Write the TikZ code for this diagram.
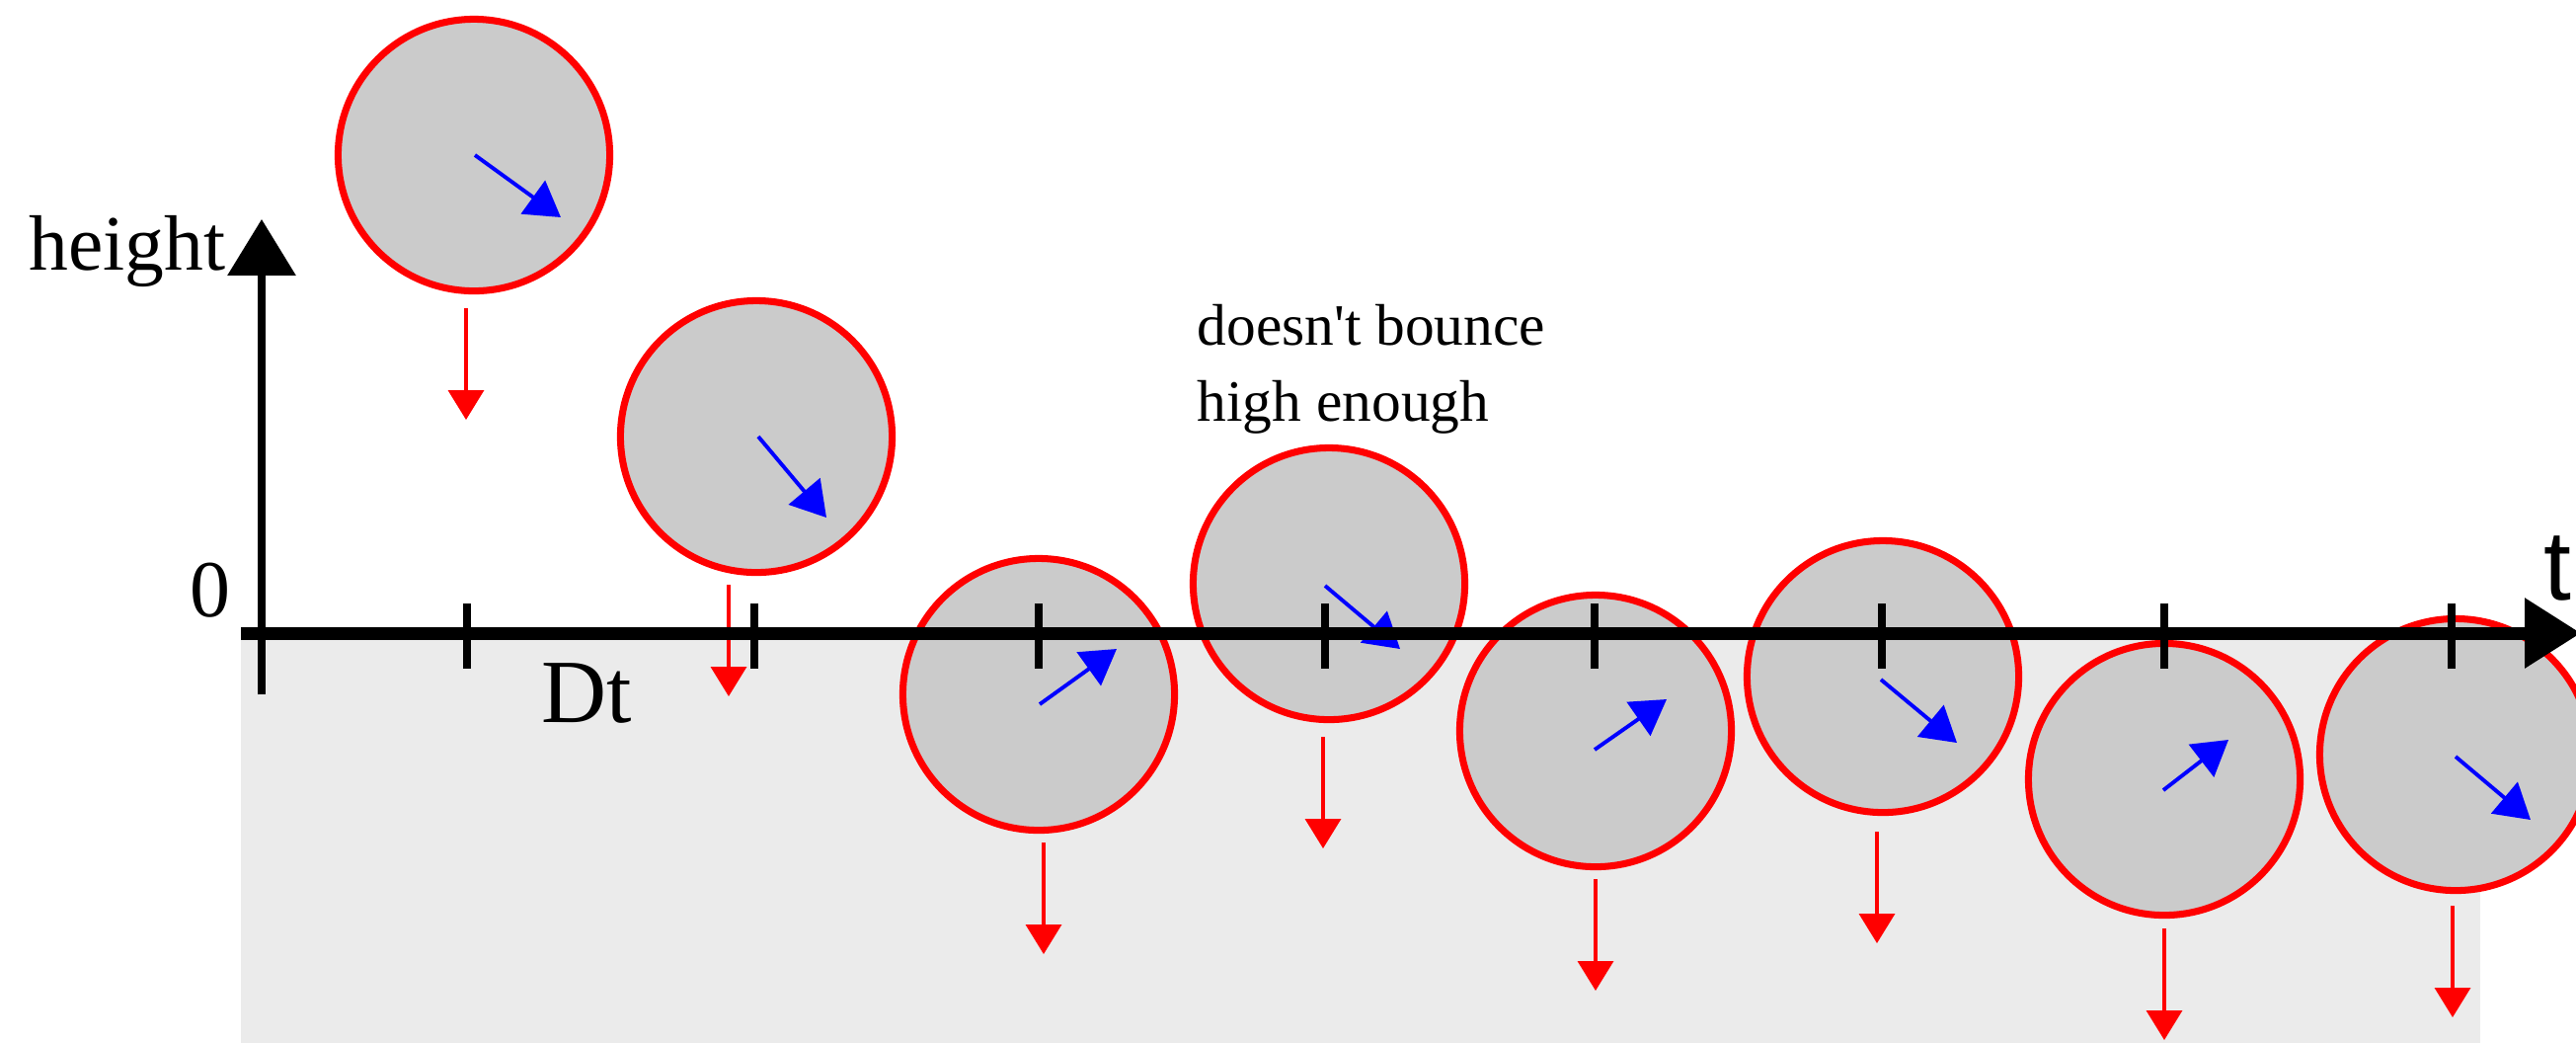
\documentclass[tikz,border=0pt]{standalone}
\usepackage{fontspec}
\setmainfont{Liberation Serif}
\newfontfamily\notefont{Liberation Serif}[Ligatures=TeXOff]
\newfontfamily\axisfont{Liberation Sans}
\usetikzlibrary{arrows.meta}
\definecolor{ballgray}{RGB}{203,203,203}
\definecolor{groundgray}{RGB}{235,235,235}
\begin{document}
\begin{tikzpicture}[x=0.01cm,y=-0.01cm,
  ball/.style={circle, draw=red, line width=2pt, fill=ballgray, minimum size=2.75cm, inner sep=0pt},
  vel/.style={blue, line width=1.1pt, -{Triangle[length=9.9pt,width=11.7pt]}},
  grav/.style={red, line width=1pt, -{Triangle[length=8.5pt,width=10.2pt]}},
  axisline/.style={black, line width=3.7pt, -{Triangle[length=16.2pt,width=19.3pt]}},
  vaxis/.style={black, line width=2pt, -{Triangle[length=16.2pt,width=19.3pt]}},
  tickmark/.style={black, line width=2.3pt},
  lbl/.style={inner sep=0pt, anchor=base west, font=\fontsize{22.6pt}{27pt}\selectfont},
  note/.style={inner sep=0pt, anchor=base west, font=\notefont\fontsize{16.9pt}{21pt}\selectfont}]
\useasboundingbox (0,0) rectangle (2609,1056);
% ground
\fill[groundgray] (244,648) rectangle (2512,1056);
% balls
\node[ball] (b1) at (480,157) {};
\node[ball] (b2) at (766,442) {};
\node[ball] (b3) at (1052,703) {};
\node[ball] (b4) at (1346,591) {};
\node[ball] (b5) at (1616,740) {};
\node[ball] (b6) at (1907,685) {};
\node[ball] (b7) at (2192,789) {};
\node[ball] (b8) at (2487,764) {};
% velocity arrows
\draw[vel] ([shift={(1,0)}]b1.center) -- ([shift={(88,63)}]b1.center);
\draw[vel] ([shift={(2,0)}]b2.center) -- ([shift={(71,82)}]b2.center);
\draw[vel] ([shift={(1,10)}]b3.center) -- ([shift={(79,-46)}]b3.center);
\draw[vel] ([shift={(-4,2)}]b4.center) -- ([shift={(72,66)}]b4.center);
\draw[vel] ([shift={(-1,19)}]b5.center) -- ([shift={(72,-32)}]b5.center);
\draw[vel] ([shift={(-2,3)}]b6.center) -- ([shift={(75,67)}]b6.center);
\draw[vel] ([shift={(-1,11)}]b7.center) -- ([shift={(65,-40)}]b7.center);
\draw[vel] ([shift={(0,2)}]b8.center) -- ([shift={(76,66)}]b8.center);
% gravity arrows
\draw[grav] ([shift={(-8,155)}]b1.center) -- ++(0,113);
\draw[grav] ([shift={(-28,150)}]b2.center) -- ++(0,113);
\draw[grav] ([shift={(5,150)}]b3.center) -- ++(0,113);
\draw[grav] ([shift={(-6,155)}]b4.center) -- ++(0,113);
\draw[grav] ([shift={(0,150)}]b5.center) -- ++(0,113);
\draw[grav] ([shift={(-6,157)}]b6.center) -- ++(0,113);
\draw[grav] ([shift={(0,151)}]b7.center) -- ++(0,113);
\draw[grav] ([shift={(-3,153)}]b8.center) -- ++(0,113);
% axes
\coordinate (vb) at (265,703);
\coordinate (vt) at (265,222);
\coordinate (hs) at (244,641);
\coordinate (he) at (2614,641);
\draw[vaxis] (vb) -- (vt);
\draw[axisline] (hs) -- (he);
\foreach \tx in {473,764,1052,1342,1615,1906,2192,2483}
  \draw[tickmark] (\tx,611) -- (\tx,677);
% labels
\node[lbl] (hl) at (29,273) {height};
\node[lbl, font=\fontsize{23.3pt}{27pt}\selectfont] (zl) at (192,624) {0};
\node[lbl, font=\fontsize{26pt}{30pt}\selectfont] (dl) at (548,731) {Dt};
\node[note] (n1) at (1212,349) {doesn't bounce};
\node[note] (n2) at (1212,426) {high enough};
\node[lbl, font=\axisfont\fontsize{28.5pt}{32pt}\selectfont] (tl) at (2576,607) {t};
\end{tikzpicture}
\end{document}
